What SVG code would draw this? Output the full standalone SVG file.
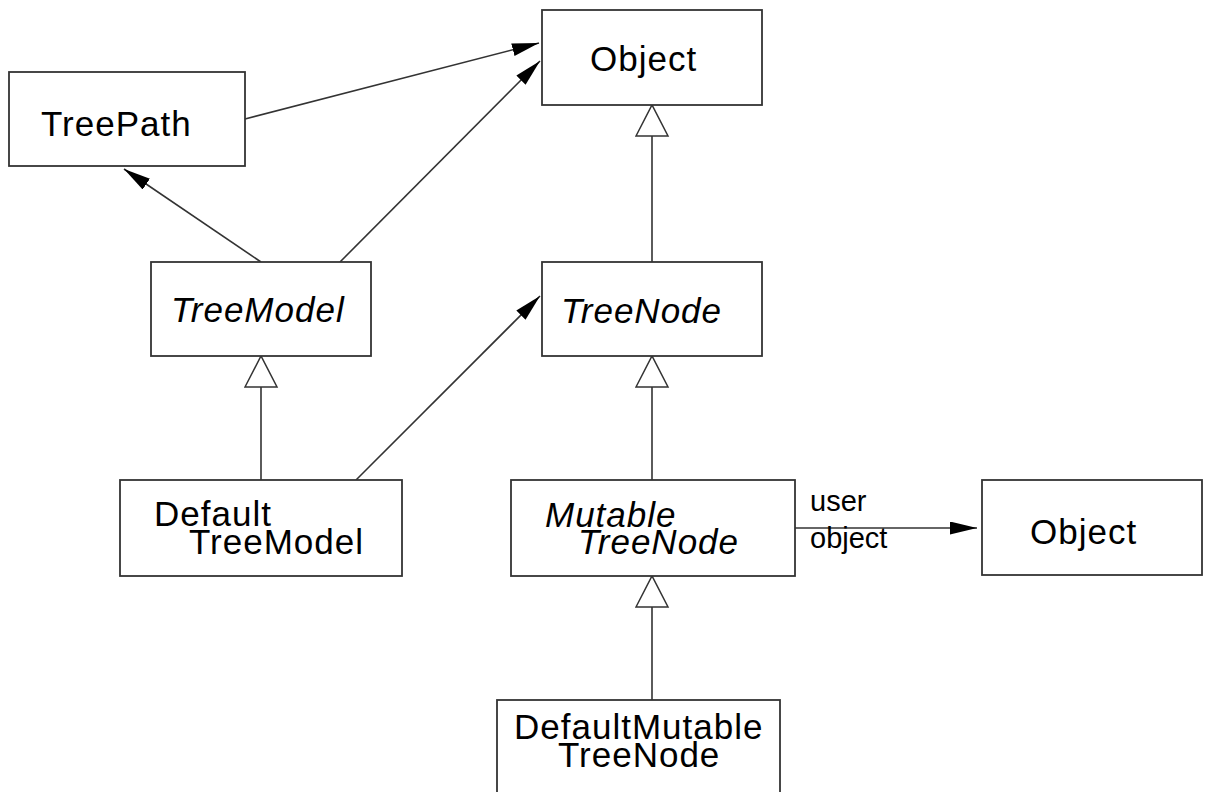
<svg xmlns="http://www.w3.org/2000/svg" width="1205" height="792" viewBox="0 0 1205 792">
<style>
.box{fill:#fff;stroke:#333;stroke-width:1.8}
.t{font-family:"Liberation Sans",Arial,sans-serif;font-size:35px;fill:#000;letter-spacing:1px}
.i{font-style:italic}
.lbl{font-family:"Liberation Sans",Arial,sans-serif;font-size:29px;fill:#000}
.c{fill:none;stroke:#333;stroke-width:1.6}
.assoc{marker-end:url(#arrow)}
.gen{marker-end:url(#tri)}
</style>
<defs>
<marker id="arrow" markerUnits="userSpaceOnUse" markerWidth="28" markerHeight="14" refX="27" refY="6.5" orient="auto">
<path d="M0,0 L27,6.5 L0,13 z" fill="#000"/>
</marker>
<marker id="tri" markerUnits="userSpaceOnUse" markerWidth="34" markerHeight="36" refX="32" refY="17" orient="auto">
<path d="M1,1 L32,17 L1,33 z" fill="#fff" stroke="#333" stroke-width="1.5"/>
</marker>
</defs>
<rect width="1205" height="792" fill="#fff"/>
<g id="connectors">
<line class="c assoc" x1="245" y1="119" x2="539" y2="43"/>
<line class="c assoc" x1="340" y1="262" x2="540" y2="61"/>
<line class="c assoc" x1="261" y1="262" x2="124" y2="169"/>
<line class="c assoc" x1="356" y1="480" x2="540" y2="296"/>
<line class="c assoc" x1="795" y1="528" x2="977" y2="528"/>
<line class="c gen" x1="652" y1="262" x2="652" y2="105"/>
<line class="c gen" x1="261" y1="480" x2="261" y2="356"/>
<line class="c gen" x1="652" y1="480" x2="652" y2="356"/>
<line class="c gen" x1="652" y1="700" x2="652" y2="576"/>
<text class="lbl" x="810" y="511">user</text>
<text class="lbl" x="810" y="548">object</text>
</g>
<g id="object-top">
<rect class="box" x="542" y="10" width="220" height="95"/>
<text class="t" x="590" y="71">Object</text>
</g>
<g id="treepath">
<rect class="box" x="9" y="72" width="236" height="94"/>
<text class="t" x="41" y="136">TreePath</text>
</g>
<g id="treemodel">
<rect class="box" x="151" y="262" width="220" height="94"/>
<text class="t i" x="171" y="322">TreeModel</text>
</g>
<g id="treenode">
<rect class="box" x="542" y="262" width="220" height="94"/>
<text class="t i" x="561" y="323">TreeNode</text>
</g>
<g id="defaulttreemodel">
<rect class="box" x="120" y="480" width="282" height="96"/>
<text class="t" x="154" y="526">Default</text>
<text class="t" x="189" y="554">TreeModel</text>
</g>
<g id="mutabletreenode">
<rect class="box" x="511" y="480" width="284" height="96"/>
<text class="t i" x="545" y="527">Mutable</text>
<text class="t i" x="578" y="554">TreeNode</text>
</g>
<g id="object-right">
<rect class="box" x="982" y="480" width="220" height="95"/>
<text class="t" x="1030" y="544">Object</text>
</g>
<g id="defaultmutabletreenode">
<rect class="box" x="497" y="700" width="283" height="100"/>
<text class="t" x="514" y="739">DefaultMutable</text>
<text class="t" x="558" y="767">TreeNode</text>
</g>
</svg>
